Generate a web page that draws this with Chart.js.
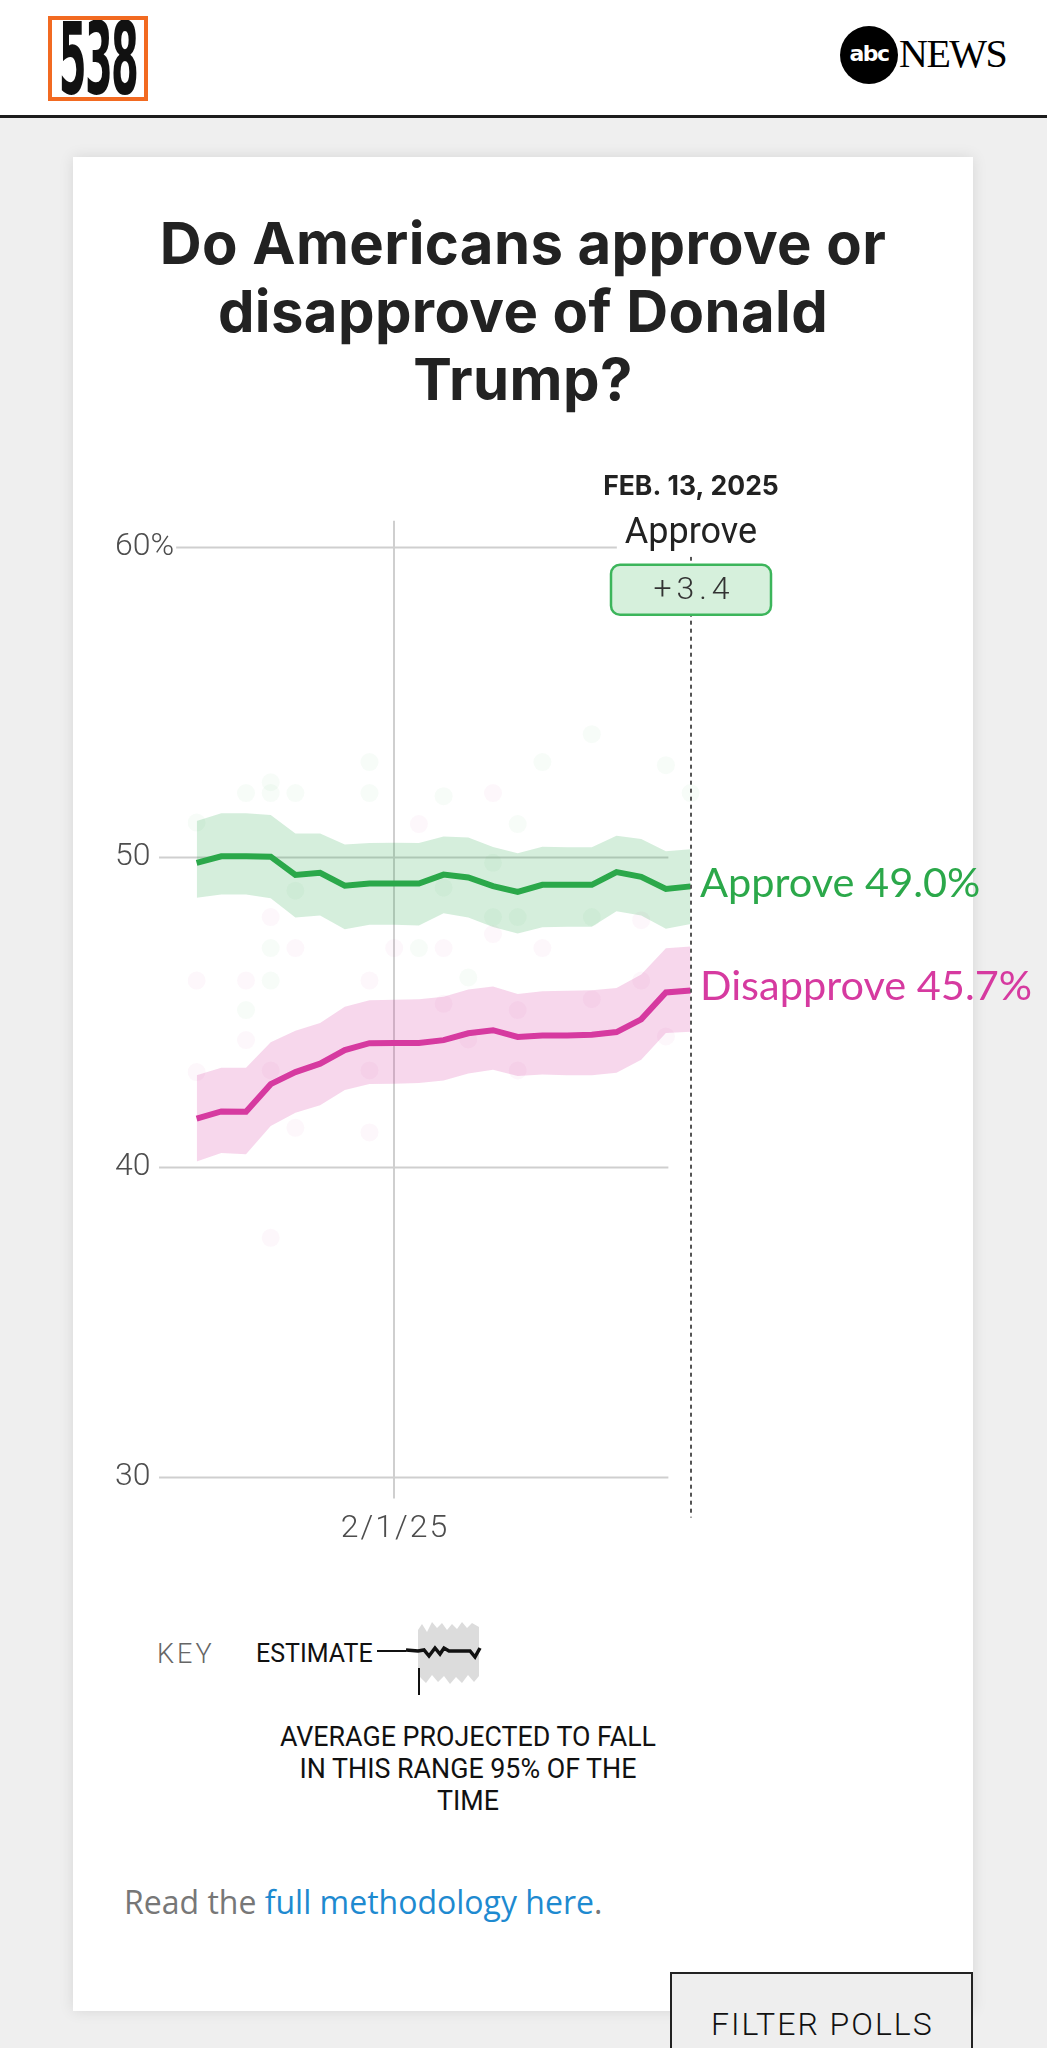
<!DOCTYPE html>
<html><head><meta charset="utf-8">
<script src="https://cdn.jsdelivr.net/npm/chart.js@4.4.1/dist/chart.umd.min.js"></script>
<style>
html,body{margin:0;padding:0;}
body{width:1047px;height:2048px;background:#efefef;position:relative;overflow:hidden;font-family:Roboto,sans-serif;}
#header{position:absolute;left:0;top:0;width:1047px;height:115px;background:#fff;border-bottom:3px solid #1c1c1c;}
#logo538{position:absolute;left:48px;top:16px;width:92px;height:77px;border:4px solid #f26a21;background:#fff;overflow:hidden;}
#logo538 span{position:absolute;left:50%;top:52%;font:bold 100px 'DejaVu Sans',sans-serif;transform:translate(-50%,-50%) scaleX(0.40);color:#111;line-height:1;letter-spacing:-4px;}
#abc{position:absolute;left:840px;top:26px;width:58px;height:58px;border-radius:50%;background:#000;color:#fff;font:bold 22px 'DejaVu Sans',sans-serif;text-align:center;line-height:56px;letter-spacing:-1.5px;}
#news{position:absolute;left:899px;top:34px;font:40px 'Liberation Serif',serif;color:#000;line-height:1;letter-spacing:-1.5px;}
#card{position:absolute;left:73px;top:157px;width:900px;height:1854px;background:#fff;box-shadow:0 0 14px rgba(0,0,0,0.10);}
#title{position:absolute;left:73px;top:209px;width:900px;text-align:center;font:700 58px Inter,sans-serif;line-height:68px;color:#222;letter-spacing:0.4px;}
#c{position:absolute;left:0;top:400px;}
#key{position:absolute;left:157px;top:1639px;font:300 27px Roboto,sans-serif;letter-spacing:3px;color:#666;line-height:30px;}
#est{position:absolute;left:256px;top:1639px;font:400 25px Roboto,sans-serif;color:#111;line-height:30px;}
#keysvg{position:absolute;left:0;top:1600px;}
#keytext{position:absolute;left:218px;top:1721px;width:500px;text-align:center;font:400 26.8px Roboto,sans-serif;line-height:32px;color:#111;}
#foot{position:absolute;left:124px;top:1880px;font:400 32px 'Open Sans',sans-serif;line-height:44px;color:#777;}
#foot a{color:#1e8ad0;text-decoration:none;}
#filter{position:absolute;left:670px;top:1972px;width:299px;height:100px;border:2px solid #222;background:#eee;box-sizing:content-box;}
#filter span{position:absolute;left:39px;top:32px;font:300 32px Roboto,sans-serif;letter-spacing:2px;color:#111;line-height:36px;}
</style></head>
<body>
<div id="header">
  <div id="logo538"><span>538</span></div>
  <div id="abc">abc</div>
  <div id="news">NEWS</div>
</div>
<div id="card"></div>
<div id="title">Do Americans approve or<br>disapprove of Donald<br>Trump?</div>
<canvas id="c" width="1047" height="1200"></canvas>
<div id="key">KEY</div>
<div id="est">ESTIMATE</div>
<svg id="keysvg" width="600" height="120" viewBox="0 1600 600 120">
  <polygon fill="#dcdcdc" points="418,1630 422,1624 427,1632 432,1622 437,1628 442,1623 447,1630 452,1624 457,1629 462,1622 467,1628 472,1623 479,1627 479,1676 474,1682 468,1675 462,1683 456,1677 450,1684 444,1676 438,1682 432,1675 426,1683 420,1677 418,1680"/>
  <line x1="377" y1="1651" x2="406" y2="1651" stroke="#111" stroke-width="2"/>
  <polyline fill="none" stroke="#111" stroke-width="3.5" stroke-linejoin="miter" points="406,1650 418,1651 424,1650 429,1656 435,1648 440,1654 444,1648 449,1651 470,1651 475,1657 480,1648"/>
  <line x1="419" y1="1668" x2="419" y2="1695" stroke="#111" stroke-width="2"/>
</svg>
<div id="keytext">AVERAGE PROJECTED TO FALL<br>IN THIS RANGE 95% OF THE<br>TIME</div>
<div id="foot">Read the <a>full methodology here</a>.</div>
<div id="filter"><span>FILTER POLLS</span></div>
<script>
// ---- data ----
const dates = ['1/24/25','1/25/25','1/26/25','1/27/25','1/28/25','1/29/25','1/30/25','1/31/25',
  '2/1/25','2/2/25','2/3/25','2/4/25','2/5/25','2/6/25','2/7/25','2/8/25','2/9/25','2/10/25','2/11/25','2/12/25','2/13/25'];
const approve      = [49.80,50.01,50.01,50.00,49.41,49.48,49.06,49.13,49.13,49.13,49.42,49.33,49.05,48.86,49.09,49.09,49.09,49.50,49.35,48.96,49.04];
const approveHi    = [51.15,51.40,51.40,51.34,50.75,50.75,50.39,50.44,50.45,50.44,50.65,50.62,50.31,50.11,50.32,50.30,50.30,50.67,50.57,50.17,50.24];
const approveLo    = [48.67,48.78,48.78,48.66,48.04,48.10,47.66,47.80,47.80,47.78,48.17,48.04,47.73,47.52,47.72,47.74,47.74,48.24,48.10,47.67,47.83];
const disapprove   = [41.55,41.78,41.77,42.66,43.05,43.32,43.76,43.98,43.99,43.99,44.08,44.30,44.40,44.18,44.23,44.23,44.25,44.34,44.75,45.62,45.68];
const disapproveHi = [42.95,43.19,43.19,44.01,44.38,44.63,45.16,45.37,45.38,45.40,45.48,45.71,45.81,45.57,45.66,45.67,45.69,45.76,46.20,47.04,47.10];
const disapproveLo = [40.16,40.44,40.40,41.31,41.74,41.98,42.47,42.66,42.67,42.70,42.78,43.00,43.12,42.92,42.97,42.95,42.95,43.03,43.45,44.31,44.35];
const approvePollDates  = ['1/24/25','1/26/25','1/26/25','1/27/25','1/27/25','1/27/25','1/27/25','1/28/25','1/28/25','1/31/25','1/31/25','2/2/25','2/3/25','2/3/25','2/4/25','2/5/25','2/5/25','2/6/25','2/6/25','2/7/25','2/9/25','2/9/25','2/12/25','2/13/25'];
const approvePollValues = [51.1,52.05,45.05,52.4,52.05,47.05,46.0,52.05,48.9,53.05,52.05,47.05,51.95,49.0,46.1,48.05,49.8,51.05,48.05,53.05,53.95,48.05,52.95,52.05];
const disapprovePollDates  = ['1/24/25','1/24/25','1/26/25','1/26/25','1/27/25','1/27/25','1/27/25','1/28/25','1/28/25','1/31/25','1/31/25','1/31/25','2/1/25','2/2/25','2/3/25','2/3/25','2/4/25','2/5/25','2/5/25','2/6/25','2/6/25','2/7/25','2/9/25','2/11/25','2/11/25','2/12/25'];
const disapprovePollValues = [46.0,43.05,46.0,44.08,48.05,43.1,37.7,47.05,41.25,46.0,43.1,41.1,47.05,51.05,47.05,45.25,44.1,52.05,47.5,45.05,43.1,47.05,45.4,47.95,46.0,44.2];
const yTicks = [30,40,50,60];
const yTickLabels = ['30','40','50','60%'];
const xTickLabel = '2/1/25';
const asOfLabel = 'FEB. 13, 2025';

const GREEN = '#2ba84a', PINK = '#d63aa0';

const annot = {
  id: 'annot',
  beforeDatasetsDraw(chart) {
    const ctx = chart.ctx, x = chart.scales.x, y = chart.scales.y;
    ctx.save();
    const gx0 = x.getPixelForValue(-1.52), gx1 = x.getPixelForValue(19.1);
    ctx.strokeStyle = '#cfcfcf'; ctx.lineWidth = 2;
    yTicks.forEach(v => {
      const py = Math.round(y.getPixelForValue(v)) + 0.5;
      ctx.beginPath(); ctx.moveTo(gx0, py); ctx.lineTo(gx1, py); ctx.stroke();
    });
    const vx = Math.round(x.getPixelForValue(dates.indexOf(xTickLabel)));
    ctx.beginPath(); ctx.moveTo(vx, y.getPixelForValue(60) - 26); ctx.lineTo(vx, y.getPixelForValue(30) + 22); ctx.stroke();
    ctx.font = '300 32px Roboto, sans-serif';
    ctx.textBaseline = 'middle'; ctx.textAlign = 'left';
    yTicks.forEach((v, i) => {
      const py = y.getPixelForValue(v);
      const w = ctx.measureText(yTickLabels[i]).width;
      ctx.fillStyle = '#fff'; ctx.fillRect(113, py - 14, w + 4, 28);
      ctx.fillStyle = '#4d4d4d'; ctx.fillText(yTickLabels[i], 115, py);
    });
    ctx.textAlign = 'center';
    ctx.letterSpacing = '2px';
    ctx.fillText(xTickLabel, vx + 1, y.getPixelForValue(30) + 52);
    ctx.restore();
  },
  afterDatasetsDraw(chart) {
    const ctx = chart.ctx, x = chart.scales.x, y = chart.scales.y;
    const last = dates.length - 1;
    const lx = Math.round(x.getPixelForValue(last));
    const y60 = y.getPixelForValue(60), y30 = y.getPixelForValue(30);
    ctx.save();
    ctx.strokeStyle = '#555'; ctx.lineWidth = 2; ctx.setLineDash([4, 4]);
    ctx.beginPath(); ctx.moveTo(lx, y60 + 10); ctx.lineTo(lx, y30 + 41); ctx.stroke();
    ctx.setLineDash([]);
    ctx.textAlign = 'center'; ctx.textBaseline = 'middle';
    ctx.fillStyle = '#222'; ctx.font = '700 26.5px Inter, sans-serif';
    ctx.fillText(asOfLabel, lx, y60 - 60);
    ctx.font = '400 36px Roboto, sans-serif';
    const aw = ctx.measureText('Approve').width;
    ctx.fillStyle = '#fff'; ctx.fillRect(lx - aw / 2 - 8, y60 - 36, aw + 16, 46);
    ctx.fillStyle = '#222'; ctx.fillText('Approve', lx, y60 - 13);
    const bx = lx - 80, by = y60 + 18, bw = 160, bh = 50;
    ctx.beginPath(); ctx.roundRect(bx, by, bw, bh, 9);
    ctx.fillStyle = '#d6f0dc'; ctx.fill();
    ctx.strokeStyle = '#3cb55b'; ctx.lineWidth = 2.5; ctx.stroke();
    const margin = approve[last] - disapprove[last];
    ctx.fillStyle = '#333'; ctx.font = '300 32px Roboto, sans-serif'; ctx.letterSpacing = '5px';
    ctx.fillText((margin >= 0 ? '+' : '') + margin.toFixed(1), lx + 3, by + bh / 2 + 1);
    ctx.letterSpacing = '0px';
    ctx.textAlign = 'left'; ctx.font = '400 41.5px Lato, sans-serif';
    ctx.fillStyle = GREEN;
    ctx.fillText('Approve ' + approve[last].toFixed(1) + '%', lx + 9, y.getPixelForValue(approve[last]) - 3);
    ctx.fillStyle = PINK;
    ctx.fillText('Disapprove ' + disapprove[last].toFixed(1) + '%', lx + 9, y.getPixelForValue(disapprove[last]) - 4);
    ctx.restore();
  }
};

const band = (data, color, fill, ord) => ({
  data, fill, backgroundColor: color, borderWidth: 0, pointRadius: 0, order: ord, tension: 0
});
const dots = (ds, vs, color) => ({
  type: 'scatter', data: ds.map((d, i) => ({x: d, y: vs[i]})),
  backgroundColor: color, borderWidth: 0, pointRadius: 9, showLine: false, order: 3
});

new Chart(document.getElementById('c'), {
  type: 'line',
  data: {
    labels: dates,
    datasets: [
      band(approveHi, 'rgba(46,170,80,0.2)', '+1', 2),
      band(approveLo, 'rgba(0,0,0,0)', false, 2),
      band(disapproveHi, 'rgba(214,56,160,0.2)', '+1', 2),
      band(disapproveLo, 'rgba(0,0,0,0)', false, 2),
      dots(approvePollDates, approvePollValues, 'rgba(46,170,80,0.04)'),
      dots(disapprovePollDates, disapprovePollValues, 'rgba(214,56,160,0.04)'),
      {data: approve, borderColor: GREEN, borderWidth: 6, pointRadius: 0, fill: false, order: 0, tension: 0, borderJoinStyle: 'miter'},
      {data: disapprove, borderColor: PINK, borderWidth: 6, pointRadius: 0, fill: false, order: 0, tension: 0, borderJoinStyle: 'miter'}
    ]
  },
  options: {
    responsive: false, animation: false, events: [],
    layout: {padding: {left: 196.6, right: 356.4, top: 146.7, bottom: 123.5}},
    scales: {
      x: {type: 'category', display: false, offset: false},
      y: {type: 'linear', display: false, min: 30, max: 60}
    },
    plugins: {legend: {display: false}, tooltip: {enabled: false}}
  },
  plugins: [annot]
});
</script>
</body></html>
